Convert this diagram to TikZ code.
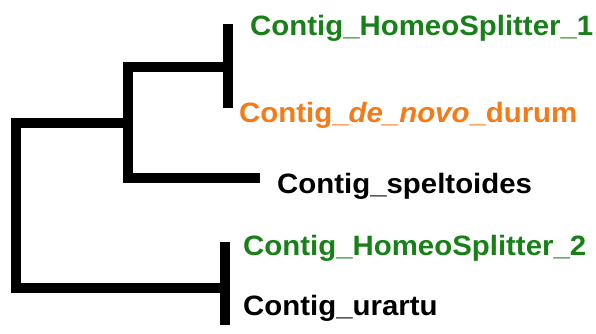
\documentclass[tikz,border=0pt]{standalone}
\usepackage{fontspec}
\setmainfont{Liberation Sans}
\definecolor{leafgreen}{RGB}{24,128,24}
\definecolor{leaforange}{RGB}{245,122,24}
\begin{document}
\begin{tikzpicture}[x=1pt,y=-1pt,
  branch/.style={line width=10pt, line join=miter, line cap=butt, black},
  leaf/.style={anchor=base west, inner sep=0pt, font=\fontsize{28}{30}\selectfont\bfseries, xscale=1.05}]
\useasboundingbox (0,0) rectangle (596,334);
% junction coordinates
\coordinate (root top) at (16,122.5);
\coordinate (root bot) at (16,287.5);
\coordinate (inner) at (128,122.5);
\coordinate (inner top) at (128,67);
\coordinate (inner bot) at (128,177.5);
\coordinate (c1) at (228,67);
\coordinate (c1a) at (228,24);
\coordinate (c1b) at (228,108);
\coordinate (sp) at (260,177.5);
\coordinate (c2) at (225,287.5);
\coordinate (c2a) at (225,242);
\coordinate (c2b) at (225,325);
% leaves
\node[leaf, text=leafgreen] (hs1) at (250,36) {Contig\_HomeoSplitter\_1};
\node[leaf, text=leaforange] (dn) at (239,122) {Contig\_\textit{de\_novo}\_durum};
\node[leaf] (spl) at (277,193) {Contig\_speltoides};
\node[leaf, text=leafgreen] (hs2) at (243,255) {Contig\_HomeoSplitter\_2};
\node[leaf] (ur) at (243,315) {Contig\_urartu};
% branches
\draw[branch] (inner) -- (root top) -- (root bot) -- (c2);
\draw[branch] (c1) -- (inner top) -- (inner bot) -- (sp);
\draw[branch] (c1a) -- (c1b);
\draw[branch] (c2a) -- (c2b);
\end{tikzpicture}
\end{document}
